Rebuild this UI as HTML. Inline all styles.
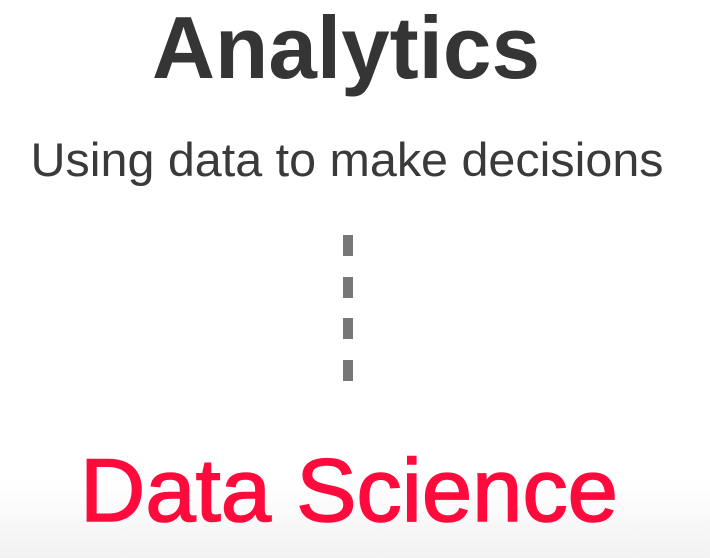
<!DOCTYPE html>
<html><head><meta charset="utf-8"><style>
html,body{margin:0;padding:0;}
body{width:710px;height:558px;overflow:hidden;background:linear-gradient(#fff 0,#fff 480px,#f2f2f2 558px);}
svg{display:block;}
text{font-family:"Liberation Sans",Arial,sans-serif;}
</style></head><body>
<svg width="710" height="558" viewBox="0 0 710 558">
  <text x="346" y="78" text-anchor="middle" font-size="88" font-weight="bold" fill="#353535" textLength="388" lengthAdjust="spacingAndGlyphs">Analytics</text>
  <text x="347" y="176" text-anchor="middle" font-size="47" fill="#3a3a3a" textLength="633" lengthAdjust="spacingAndGlyphs">Using data to make decisions</text>
  <g fill="#777">
    <rect x="343" y="235" width="10" height="21"/>
    <rect x="343" y="277" width="10" height="21"/>
    <rect x="343" y="318" width="10" height="21"/>
    <rect x="343" y="360" width="10" height="21"/>
  </g>
  <text x="349" y="521" text-anchor="middle" font-size="89" fill="#ff0a3c" stroke="#ff0a3c" stroke-width="1.6" textLength="538" lengthAdjust="spacingAndGlyphs">Data Science</text>
</svg>
</body></html>
